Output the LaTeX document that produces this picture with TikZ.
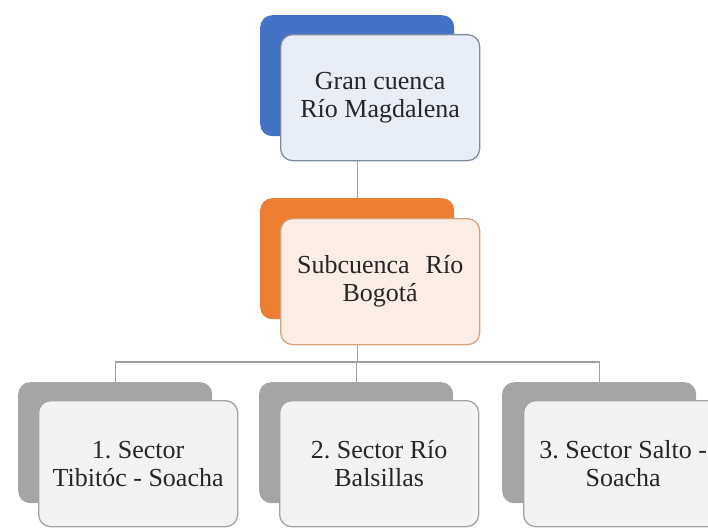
\documentclass[tikz,border=0pt]{standalone}
\usepackage{fontspec}
\setmainfont{Liberation Serif}
\frenchspacing
\definecolor{bblue}{HTML}{4472C4}
\definecolor{fblue}{HTML}{E9EDF6}
\definecolor{lblue}{HTML}{7F8CA0}
\definecolor{borange}{HTML}{ED7D31}
\definecolor{forange}{HTML}{FCEDE6}
\definecolor{lorange}{HTML}{D4A27E}
\definecolor{bgray}{HTML}{A5A5A5}
\definecolor{fgray}{HTML}{F3F3F3}
\definecolor{lgray}{HTML}{A3A3A3}
\definecolor{conn}{HTML}{A0A0A0}
\definecolor{txt}{HTML}{262626}
\tikzset{
  backbox/.style={rounded corners=12pt, minimum width=194pt, minimum height=121pt, inner sep=0pt, draw=none},
  frontbox/.style={rounded corners=12pt, minimum width=199pt, minimum height=126pt, inner sep=0pt, line width=1.3pt, align=center, text=txt, font=\fontsize{26}{28}\selectfont\frenchspacing},
  connector/.style={draw=conn, line width=1.2pt}
}
\begin{document}
\begin{tikzpicture}[x=1pt,y=-1pt]
\useasboundingbox (0,0) rectangle (708,527);
% back boxes
\node[backbox, fill=bblue, anchor=north west] (tback) at (260,15) {};
\node[backbox, fill=borange, anchor=north west] (mback) at (260,198) {};
\node[backbox, fill=bgray, anchor=north west] (aback) at (18,382) {};
\node[backbox, fill=bgray, anchor=north west] (bback) at (259,382) {};
\node[backbox, fill=bgray, anchor=north west] (cback) at (502,382) {};
% connectors
\coordinate (hy) at (357,362);
\draw[connector] (tback.south) -- (mback.north);
\draw[connector] (mback.south) -- (mback.south |- hy) -| (aback.north);
\draw[connector] (mback.south |- hy) -| (bback.north);
\draw[connector] (mback.south |- hy) -| (cback.north);
% front boxes
\node[frontbox, fill=fblue, draw=lblue, anchor=north west] (tfront) at (280,34) {Gran cuenca\\Río Magdalena};
\node[frontbox, fill=forange, draw=lorange, anchor=north west] (mfront) at (280,218) {Subcuenca\hspace{16pt}Río\\Bogotá};
\node[frontbox, fill=fgray, draw=lgray, anchor=north west] (afront) at (38,400) {1. Sector\\Tibitóc - Soacha};
\node[frontbox, fill=fgray, draw=lgray, anchor=north west] (bfront) at (279,400) {2. Sector Río\\Balsillas};
\node[frontbox, fill=fgray, draw=lgray, anchor=north west] (cfront) at (523,400) {3. Sector Salto -\\Soacha};
\end{tikzpicture}
\end{document}
